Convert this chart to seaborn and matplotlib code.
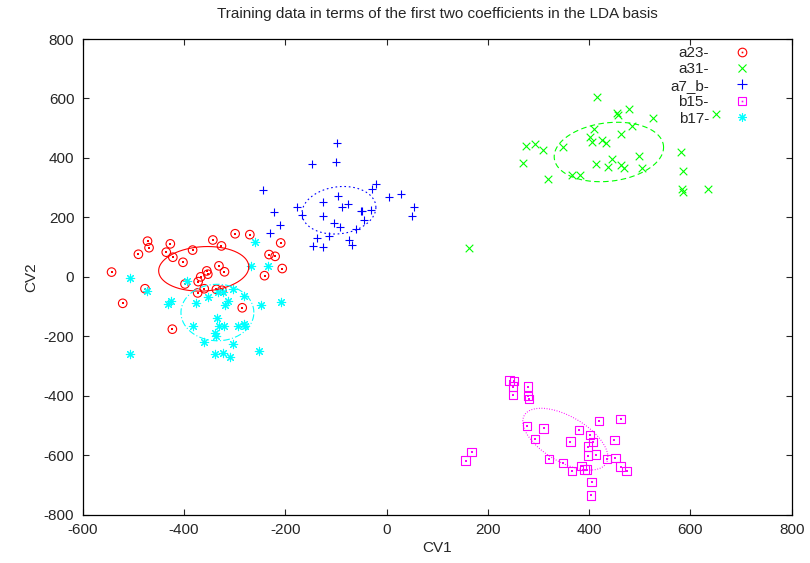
import numpy as np
import pandas as pd
import matplotlib
matplotlib.use("Agg")
import matplotlib.pyplot as plt
import seaborn as sns
from matplotlib.lines import Line2D

# class labels as shown in the legend
labels = ["a23-", "a31-", "a7_b-", "b15-", "b17-"]
colors = ["#ff0000", "#00ff00", "#0000ff", "#ff00ff", "#00ffff"]

# a23 (red circles)
a23_x = [-543, -521, -490, -472, -469, -477, -427, -435, -422, -423, -402, -383, -398,
         -373, -372, -367, -355, -353, -360, -343, -326, -331, -320, -336, -325, -299,
         -270, -285, -241, -232, -220, -209, -206]
a23_y = [16, -89, 76, 120, 98, -40, 111, 83, 66, -176, 49, 90, -24,
         -54, -16, 0, 20, 9, -40, 124, 104, 37, 17, -42, -45, 145,
         142, -104, 4, 75, 69, 114, 28]

# a31 (green crosses)
a31_x = [416, 456, 458, 479, 526, 409, 484, 462, 401, 406, 426, 433, 275, 293, 308,
         348, 270, 319, 367, 382, 414, 446, 438, 463, 469, 498, 504, 581, 586, 584,
         585, 635, 162, 651]
a31_y = [606, 551, 544, 566, 534, 499, 506, 481, 469, 455, 461, 449, 439, 447, 426,
         438, 384, 329, 343, 344, 380, 395, 368, 377, 367, 408, 367, 421, 357, 295,
         287, 295, 96, 548]

# a7_b (blue plus)
a7b_x = [-97, -148, -99, -243, -222, -211, -231, -176, -167, -126, -126, -96, -87,
         -76, -103, -91, -138, -146, -126, -114, -74, -68, -61, -45, -50, -48, -30,
         -28, -20, 5, 29, 54, 50]
a7b_y = [449, 379, 387, 293, 218, 174, 148, 234, 208, 253, 206, 271, 236,
         244, 180, 168, 130, 103, 99, 139, 125, 108, 160, 191, 222, 220, 224,
         294, 313, 269, 278, 235, 206]

# b15 (magenta squares)
b15_x = [243, 252, 250, 279, 250, 279, 281, 168, 156, 277, 310, 293, 321, 349, 366,
         363, 380, 402, 408, 398, 398, 413, 385, 391, 396, 405, 404, 419, 462, 450,
         435, 452, 462, 474]
b15_y = [-349, -351, -369, -369, -397, -401, -411, -590, -618, -502, -510, -545, -613,
         -625, -652, -554, -516, -532, -556, -571, -601, -598, -636, -648, -648, -690,
         -735, -484, -478, -548, -612, -609, -638, -652]

# b17 (cyan stars)
b17_x = [-506, -506, -473, -431, -426, -395, -377, -382, -360, -353, -334, -331, -320,
         -339, -337, -339, -323, -309, -319, -314, -332, -322, -304, -304, -293, -281,
         -279, -281, -252, -248, -235, -259, -268, -208]
b17_y = [-4, -258, -48, -91, -80, -13, -87, -164, -220, -67, -137, -166, -166,
         -189, -200, -261, -255, -270, -95, -80, -50, -51, -40, -225, -164, -158,
         -164, -64, -250, -95, 38, 118, 35, -85]

# ellipse outlines: centre x, centre y, x half-extent, y half-extent, phase (deg)
ell_cx = [-361, 439, -94, 353, -334]
ell_cy = [27, 420, 224, -546, -120]
ell_ax = [89, 108, 73, 84, 72]
ell_ay = [75, 100, 80, 104, 95]
ell_phase = [85, 81, 83, 125, 90]
ell_styles = ["-", (0, (5, 3)), (0, (1.5, 2.5)), (0, (0.8, 1.5)), (0, (6, 2, 1, 2))]

x_ticks = list(range(-600, 801, 200))
y_ticks = list(range(-800, 801, 200))

groups = [(a23_x, a23_y), (a31_x, a31_y), (a7b_x, a7b_y), (b15_x, b15_y), (b17_x, b17_y)]
frames = []
for lab, (xs, ys) in zip(labels, groups):
    frames.append(pd.DataFrame({"CV1": xs, "CV2": ys, "cls": lab}))
df = pd.concat(frames, ignore_index=True)

sns.set_style("ticks")
plt.rcParams["font.family"] = ["Liberation Sans", "DejaVu Sans"]
plt.rcParams["font.size"] = 11
plt.rcParams["axes.unicode_minus"] = False

fig = plt.figure(figsize=(8.1, 5.63), dpi=100)
ax = fig.add_axes([0.1021, 0.0858, 0.9774 - 0.1021, 0.9307 - 0.0858])

star = (8, 2, 0)
mstyle = {
    "a23-": dict(marker="o", s=38, facecolors="none", edgecolors=colors[0], linewidths=0.8),
    "a31-": dict(marker="x", s=30, color=colors[1], linewidths=0.8),
    "a7_b-": dict(marker="+", s=40, color=colors[2], linewidths=0.8),
    "b15-": dict(marker="s", s=36, facecolors="none", edgecolors=colors[3], linewidths=0.8),
    "b17-": dict(marker=star, s=36, color=colors[4], linewidths=0.8),
}

for lab in labels:
    sub = df[df["cls"] == lab]
    sns.scatterplot(data=sub, x="CV1", y="CV2", ax=ax, legend=False, **mstyle[lab])
    if lab in ("a23-", "b15-"):
        # centre dot inside the open markers
        sns.scatterplot(data=sub, x="CV1", y="CV2", ax=ax, legend=False,
                        marker="s", s=1.2, color=mstyle[lab]["edgecolors"], linewidth=0)

t = np.linspace(0, 2 * np.pi, 200)
for i in range(len(labels)):
    ph = np.deg2rad(ell_phase[i])
    ex = ell_cx[i] + ell_ax[i] * np.cos(t)
    ey = ell_cy[i] + ell_ay[i] * np.cos(t - ph)
    ax.plot(ex, ey, color=colors[i], linestyle=ell_styles[i], linewidth=0.8)

ax.set_xlim(-600, 800)
ax.set_ylim(-800, 800)
ax.set_xticks(x_ticks)
ax.set_yticks(y_ticks)
ax.tick_params(direction="in", length=4, width=0.8, top=True, right=True, labelsize=11, pad=6)
for sp in ax.spines.values():
    sp.set_visible(True)
    sp.set_linewidth(0.9)
    sp.set_color("black")

ax.set_xlabel("CV1", fontsize=11, labelpad=3)
ax.set_ylabel("CV2", fontsize=11, labelpad=4)
ax.set_title("Training data in terms of the first two coefficients in the LDA basis",
             fontsize=11, pad=15)

handles = [
    (Line2D([], [], marker="o", ls="", mfc="none", mec=colors[0], ms=6.2, mew=0.8),
     Line2D([], [], marker="s", ls="", color=colors[0], ms=1.2, mew=0)),
    Line2D([], [], marker="x", ls="", color=colors[1], ms=5.5, mew=0.8),
    Line2D([], [], marker="+", ls="", color=colors[2], ms=6.5, mew=0.8),
    (Line2D([], [], marker="s", ls="", mfc="none", mec=colors[3], ms=6.2, mew=0.8),
     Line2D([], [], marker="s", ls="", color=colors[3], ms=1.2, mew=0)),
    Line2D([], [], marker=star, ls="", color=colors[4], ms=6, mew=0.8),
]
ax.legend(handles, labels, loc="upper right", bbox_to_anchor=(0.958, 1.008),
          frameon=False, markerfirst=False, handlelength=1.2, handletextpad=1.57,
          labelspacing=0.16, fontsize=11, borderpad=0.2)

fig.savefig("out.png", dpi=100)
